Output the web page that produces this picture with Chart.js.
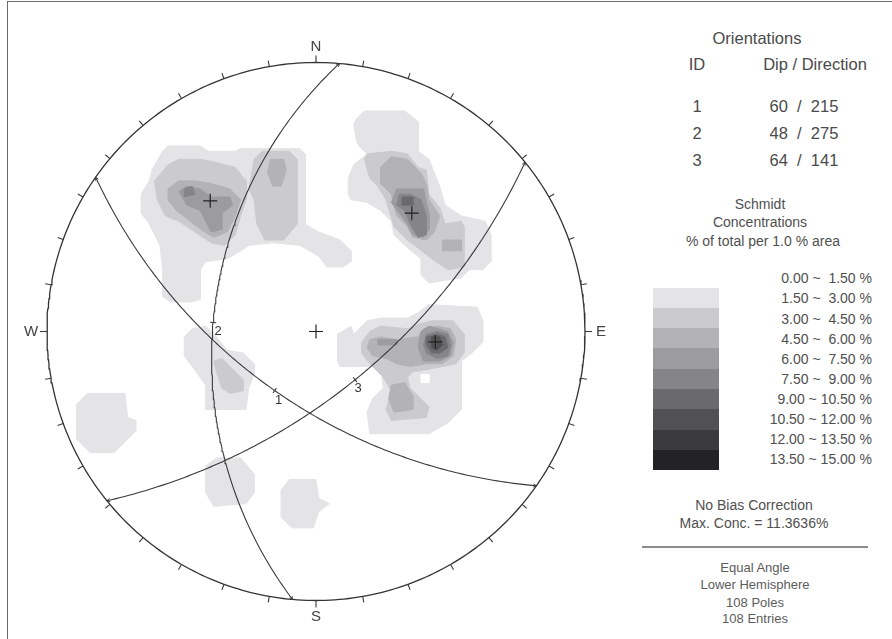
<!DOCTYPE html>
<html><head><meta charset="utf-8"><title>Stereonet</title>
<script src="https://cdn.jsdelivr.net/npm/chart.js@4.4.1/dist/chart.umd.min.js"></script>
<style>
html,body{margin:0;padding:0;background:#fff}
body{position:relative;width:892px;height:639px;overflow:hidden;font-family:"Liberation Sans",Arial,sans-serif;color:#4a4a4a}
#frame{position:absolute;left:7px;top:1px;width:900px;height:700px;border:1px solid #6a6a6a;box-sizing:border-box}
#net{position:absolute;left:0;top:0}
.t{position:absolute;white-space:pre;transform:translate(-50%,-50%);line-height:1}
.t.r{transform:translate(-100%,-50%)}
.sw{position:absolute;left:653px;width:66px}
#rule{position:absolute;left:642px;top:546px;width:226px;height:2px;background:#8c8c8c}
</style></head><body>
<div id="frame"></div>
<canvas id="net" width="632" height="639"></canvas>
<div id="panel"><div id="rule"></div></div>
<script>
// ---- orientations of the three planes ----
const planeIds = ['1', '2', '3'];
const planeDips = [60, 48, 64];
const planeDipDirections = [215, 275, 141];

// ---- set mean poles (trend / plunge) ----
const meanPoleTrends = [39, 95, 321];
const meanPolePlunges = [31, 42, 26];

// ---- concentration bins ----
const binLabels = ['0.00 ~  1.50 %', '1.50 ~  3.00 %', '3.00 ~  4.50 %', '4.50 ~  6.00 %', '6.00 ~  7.50 %',
  '7.50 ~  9.00 %', '9.00 ~ 10.50 %', '10.50 ~ 12.00 %', '12.00 ~ 13.50 %', '13.50 ~ 15.00 %'];
const binColors = ['#ffffff', '#e4e4e6', '#cbcbcd', '#b3b3b5', '#9c9c9e', '#858587',
  '#6a6a6c', '#515153', '#3b3b3d', '#232325'];

// ---- density contours: [bin, x0,y0, x1,y1, ...] in net units (primitive radius = 100) ----
const contoursNW = [
  [1, [-61,60,-57,67,-55,69,-43,69,-40,67,-30,67,-28,68,-6,68,-4,66,-4,40,1,37,9,34,13,30,13,26,10,24,4,24,1,28,-6,32,-16,33,-25,32,-28,30,-33,27,-41,26,-43,23,-43,12,-46,11,-54,11,-57,13,-57,23,-58,32,-62,40,-65,44,-65,51,-62,56]],
  [2, [-60,56,-55,62,-51,64,-43,64,-38,63,-30,61,-26,56,-26,49,-28,43,-30,36,-34,32,-39,33,-45,37,-51,41,-56,43,-59,49]],
  [2, [-23,64,-20,67,-10,67,-7,64,-7,40,-12,34,-19,34,-22,40,-23,49,-25,53]],
  [3, [-55,53,-51,56,-45,56,-39,55,-32,53,-28,49,-30,43,-33,37,-38,35,-43,38,-48,42,-52,45,-55,49]],
  [3, [-17,64,-12,64,-11,60,-13,54,-16,54,-18,59]],
  [4, [-51,52,-48,54,-43,53,-39,50,-32,50,-31,47,-35,44,-35,38,-39,37,-41,41,-43,45,-48,47]],
  [5, [-49,53,-46,54,-45,51,-49,50]]
];
const contoursNE = [
  [1, [15,79,18,82,33,82,38,78,38,67,42,64,46,54,48,47,54,43,63,41,65,36,65,26,62,23,57,23,54,20,42,18,39,21,39,27,33,32,29,36,28,41,24,45,19,48,13,49,12,51,12,57,14,62,19,66,16,69,15,71,14,77]],
  [2, [19,66,28,67,34,66,38,61,41,60,42,51,46,46,48,40,54,41,55,39,55,24,49,23,43,27,38,31,34,34,29,39,26,49,23,54,20,57,18,64]],
  [3, [24,61,28,65,34,64,39,59,41,55,42,49,46,43,44,37,41,34,36,35,34,39,30,43,28,51,24,55]],
  [3, [47,34,54,34,54,30,47,30]],
  [4, [30,53,32,53,40,53,41,48,42,44,42,38,40,35,36,36,34,40,31,44,28,48]],
  [5, [31,51,35,51,39,49,41,43,41,36,38,35,35,40,33,45,30,47]],
  [6, [32,50,36,50,36,47,32,47]]
];
const contoursE = [
  [1, [8,-1,13,2,14,-1,19,4,24,5,34,5,38,7,42,10,60,9,62,4,62,-4,58,-8,54,-11,54,-29,49,-34,42,-38,20,-38,19,-30,21,-25,25,-21,24,-13,17,-13,9,-13,8,-11]],
  [2, [17,-4,20,0,24,2,34,1,39,3,43,4,51,4,55,-1,55,-8,52,-12,47,-13,42,-14,36,-15,34,-17,35,-21,38,-24,42,-28,41,-32,28,-33,26,-29,28,-22,25,-17,20,-12,17,-8]],
  [3, [20,-3,24,-2,30,-3,38,-2,40,1,45,2,50,1,52,-3,51,-9,47,-12,41,-12,35,-13,30,-12,26,-10,21,-9,19,-6]],
  [3, [28,-20,33,-19,36,-24,36,-29,29,-30,27,-25]],
  [4, [39,0,42,2,49,0,51,-4,50,-9,46,-11,40,-11,38,-6]],
  [4, [23,-3,30,-3,30,-5,23,-5]],
  [5, [41,-1,45,0,49,-1,50,-5,49,-9,45,-10,41,-8,40,-5]],
  [6, [41,-2,45,-1,48,-2,49,-6,46,-8,43,-8,41,-5]],
  [7, [43,-2,46,-2,47,-5,45,-7,43,-6]],
  [0, [39,-16,42,-16,42,-19,39,-19]]
];
const contoursW = [
  [1, [-49,-2,-46,1,-41,2,-37,-2,-33,-7,-27,-8,-23,-12,-23,-16,-25,-21,-26,-29,-41,-29,-41,-20,-46,-13,-49,-9]],
  [2, [-38,-11,-35,-10,-31,-14,-27,-18,-27,-22,-32,-23,-35,-21,-37,-15]],
  [1, [-89,-27,-85,-23,-71,-23,-70,-32,-67,-33,-67,-37,-70,-40,-75,-45,-84,-45,-89,-40]]
];
const contoursS = [
  [1, [-41,-50,-37,-47,-28,-47,-23,-53,-23,-60,-26,-64,-38,-65,-41,-60]],
  [1, [-13,-59,-10,-55,0,-55,1,-62,5,-64,1,-67,-1,-73,-9,-73,-13,-69]]
];

const cardinalLabels = ['N', 'E', 'S', 'W'];
const cardinalAzimuths = [0, 90, 180, 270];

// ---- equal-angle (stereographic) lower-hemisphere projection ----
const D2R = Math.PI / 180;
const R = 100;
function project(trend, plunge) {
  const r = R * Math.tan((Math.PI / 2 - plunge * D2R) / 2);
  return { x: r * Math.sin(trend * D2R), y: r * Math.cos(trend * D2R) };
}
function greatCircle(dip, dipDir) {
  const s = (dipDir - 90) * D2R, dd = dipDir * D2R, d = dip * D2R;
  const S = [Math.cos(s), Math.sin(s), 0];
  const Dv = [Math.cos(d) * Math.cos(dd), Math.cos(d) * Math.sin(dd), Math.sin(d)];
  const pts = [];
  for (let i = 0; i <= 180; i++) {
    const t = i * D2R;
    const v = [0, 1, 2].map(k => S[k] * Math.cos(t) + Dv[k] * Math.sin(t));
    const pl = Math.asin(Math.max(-1, Math.min(1, v[2]))) / D2R;
    const tr = Math.atan2(v[1], v[0]) / D2R;
    pts.push(project(tr, pl));
  }
  return pts;
}
function primitive() {
  const pts = [];
  for (let az = 0; az <= 360; az += 1) pts.push(project(az, 0));
  return pts;
}
function polygon(flat) {
  const pts = [];
  for (let i = 0; i < flat.length; i += 2) pts.push({ x: flat[i], y: flat[i + 1] });
  pts.push(pts[0]);
  return pts;
}

const greatCircles = planeDips.map((dip, i) => greatCircle(dip, planeDipDirections[i]));

const datasets = [];
[contoursNW, contoursNE, contoursE, contoursW, contoursS].forEach(group => {
  group.forEach(([bin, flat]) => {
    datasets.push({
      data: polygon(flat),
      backgroundColor: binColors[bin],
      borderColor: binColors[bin],
      borderWidth: 1,
      fill: 'shape',
      pointRadius: 0,
      tension: 0,
      clip: false,
      order: bin === 0 ? 60 : 100 - bin
    });
  });
});
greatCircles.forEach(pts => {
  datasets.push({
    data: pts,
    borderColor: '#3a3a3a', borderWidth: 1.1, fill: false,
    pointRadius: 0, tension: 0, clip: false, order: 3
  });
});
datasets.push({
  data: primitive(),
  borderColor: '#333333', borderWidth: 1.3, fill: false,
  pointRadius: 0, tension: 0, clip: false, order: 2
});
datasets.push({
  data: [{ x: 0, y: 0 }].concat(meanPoleTrends.map((t, i) => project(t, meanPolePlunges[i]))),
  showLine: false, pointStyle: 'cross', pointRadius: 7, pointBorderWidth: 1.2,
  borderColor: '#222222', pointBorderColor: '#222222', clip: false, order: 1
});

// primitive ticks, compass letters, plane labels and end arrows
const planeLabelOffsets = [[4, 10], [5, 9], [3, 9]];
const netFurniture = {
  id: 'netFurniture',
  afterDatasetsDraw(chart) {
    const { ctx } = chart;
    const sx = chart.scales.x, sy = chart.scales.y;
    const toPx = p => [sx.getPixelForValue(p.x), sy.getPixelForValue(p.y)];
    const c = toPx({ x: 0, y: 0 });
    ctx.save();
    ctx.strokeStyle = '#3a3a3a';
    ctx.lineWidth = 1.1;
    for (let az = 0; az < 360; az += 10) {
      const p = toPx(project(az, 0));
      const ux = p[0] - c[0], uy = p[1] - c[1], l = Math.hypot(ux, uy);
      const len = az % 90 === 0 ? 7 : 6;
      ctx.beginPath();
      ctx.moveTo(p[0], p[1]);
      ctx.lineTo(p[0] + ux / l * len, p[1] + uy / l * len);
      ctx.stroke();
    }
    // small open arrowheads at both ends of each great circle
    ctx.lineWidth = 0.9;
    greatCircles.forEach(pts => {
      [[pts[0], pts[4]], [pts[pts.length - 1], pts[pts.length - 5]]].forEach(([end, inner]) => {
        const e = toPx(end), q = toPx(inner);
        const a = Math.atan2(e[1] - q[1], e[0] - q[0]);
        ctx.beginPath();
        ctx.moveTo(e[0] - 3.5 * Math.cos(a - 0.5), e[1] - 3.5 * Math.sin(a - 0.5));
        ctx.lineTo(e[0], e[1]);
        ctx.lineTo(e[0] - 3.5 * Math.cos(a + 0.5), e[1] - 3.5 * Math.sin(a + 0.5));
        ctx.stroke();
      });
    });
    ctx.lineWidth = 1.1;
    ctx.fillStyle = '#444444';
    ctx.font = '15px "Liberation Sans", Arial, sans-serif';
    ctx.textAlign = 'center';
    ctx.textBaseline = 'middle';
    cardinalLabels.forEach((lab, i) => {
      const p = toPx(project(cardinalAzimuths[i], 0));
      const ux = p[0] - c[0], uy = p[1] - c[1], l = Math.hypot(ux, uy);
      ctx.fillText(lab, p[0] + ux / l * 16, p[1] + uy / l * 16);
    });
    ctx.font = '13px "Liberation Sans", Arial, sans-serif';
    ctx.fillStyle = '#333333';
    planeIds.forEach((id, i) => {
      const p = toPx(project(planeDipDirections[i], planeDips[i]));
      const ux = p[0] - c[0], uy = p[1] - c[1], l = Math.hypot(ux, uy) || 1;
      ctx.beginPath();
      ctx.moveTo(p[0] - ux / l * 3, p[1] - uy / l * 3);
      ctx.lineTo(p[0] + ux / l * 3, p[1] + uy / l * 3);
      ctx.stroke();
      const o = planeLabelOffsets[i];
      ctx.fillText(id, p[0] + o[0], p[1] + o[1]);
    });
    ctx.restore();
  }
};

new Chart(document.getElementById('net'), {
  type: 'line',
  data: { datasets },
  options: {
    responsive: false,
    animation: false,
    events: [],
    layout: { padding: { left: 47, right: 47, top: 62.5, bottom: 38.5 } },
    plugins: { legend: { display: false }, tooltip: { enabled: false } },
    scales: {
      x: { type: 'linear', min: -R, max: R, display: false },
      y: { type: 'linear', min: -R, max: R, display: false }
    }
  },
  plugins: [netFurniture]
});

// ---- side panel ----
const panel = document.getElementById('panel');
function addText(str, x, y, size, color, right) {
  const el = document.createElement('div');
  el.className = 't' + (right ? ' r' : '');
  el.textContent = str;
  el.style.left = x + 'px';
  el.style.top = y + 'px';
  el.style.fontSize = size + 'px';
  el.style.color = color;
  panel.appendChild(el);
}
addText('Orientations', 757, 38, 16.5, '#4a4a4a');
addText('ID', 697, 64, 16.5, '#4a4a4a');
addText('Dip / Direction', 815, 64, 16.5, '#4a4a4a');
planeIds.forEach((id, i) => {
  addText(id, 697, 106 + i * 27, 16.5, '#4a4a4a');
  addText(planeDips[i] + '  /  ' + planeDipDirections[i], 804, 106 + i * 27, 16.5, '#4a4a4a');
});
addText('Schmidt', 760, 204, 14, '#505050');
addText('Concentrations', 760, 222, 14, '#505050');
addText('% of total per 1.0 % area', 763, 241, 14, '#505050');
binLabels.forEach((lab, i) => {
  addText(lab, 872, 278.3 + i * 20.12, 14, '#505050', true);
  if (i > 0) {
    const sw = document.createElement('div');
    sw.className = 'sw';
    sw.style.top = (287.7 + (i - 1) * 20.26) + 'px';
    sw.style.height = '20.5px';
    sw.style.background = binColors[i];
    panel.appendChild(sw);
  }
});
addText('No Bias Correction', 754, 505, 14, '#505050');
addText('Max. Conc. = 11.3636%', 754, 523, 14, '#505050');
addText('Equal Angle', 755, 567, 13, '#5c5c5c');
addText('Lower Hemisphere', 755, 584, 13, '#5c5c5c');
addText('108 Poles', 755, 602, 13, '#5c5c5c');
addText('108 Entries', 755, 618, 13, '#5c5c5c');
</script></body></html>
